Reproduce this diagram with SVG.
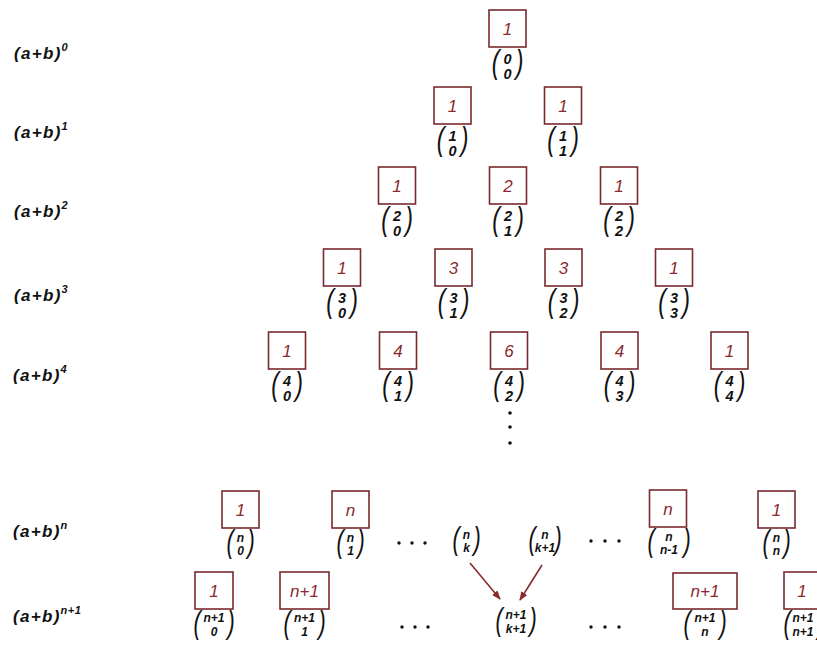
<svg xmlns="http://www.w3.org/2000/svg" width="817" height="646" viewBox="0 0 817 646">
<style>
.box{fill:none;stroke:#7a2a2e;stroke-width:1.6}
.val{font-family:"Liberation Sans",Arial,sans-serif;font-style:italic;font-size:17px;fill:#8a2a2e;text-anchor:middle}
.bin{font-family:"Liberation Sans",Arial,sans-serif;font-style:italic;font-weight:bold;font-size:14.5px;fill:#111;text-anchor:middle}
.binS{font-family:"Liberation Sans",Arial,sans-serif;font-style:italic;font-weight:bold;font-size:12px;fill:#111;text-anchor:middle}
.par{font-family:"Liberation Sans",Arial,sans-serif;font-style:italic;font-size:33px;fill:#111;text-anchor:middle}
.parS{font-family:"Liberation Sans",Arial,sans-serif;font-style:italic;font-size:31px;fill:#111;text-anchor:middle}
.lab{font-family:"Liberation Sans",Arial,sans-serif;font-style:italic;font-weight:bold;font-size:17px;letter-spacing:1.3px;fill:#111}
.sup{font-size:11px;letter-spacing:0.5px}
.dot{fill:#111}
.arr{stroke:#8a2a2e;stroke-width:1.6;fill:none;marker-end:url(#ah)}
</style>
<defs>
<marker id="ah" viewBox="0 0 10 10" refX="9" refY="5" markerWidth="9" markerHeight="9" markerUnits="userSpaceOnUse" orient="auto">
<path d="M0,1 L10,5 L0,9 Z" fill="#8a2a2e"/>
</marker>
</defs>
<rect width="817" height="646" fill="#fff"/>

<g id="row-labels">
<text class="lab" x="14" y="59">(a+b)<tspan class="sup" dy="-8">0</tspan></text>
<text class="lab" x="14" y="138">(a+b)<tspan class="sup" dy="-8">1</tspan></text>
<text class="lab" x="14" y="217">(a+b)<tspan class="sup" dy="-8">2</tspan></text>
<text class="lab" x="14" y="301">(a+b)<tspan class="sup" dy="-8">3</tspan></text>
<text class="lab" x="13" y="381">(a+b)<tspan class="sup" dy="-8">4</tspan></text>
<text class="lab" x="13" y="537">(a+b)<tspan class="sup" dy="-8">n</tspan></text>
<text class="lab" x="13" y="622">(a+b)<tspan class="sup" dy="-8">n+1</tspan></text>
</g>

<!-- row 0 -->
<g id="r0-0"><rect class="box" x="489" y="10" width="37" height="37"/><text class="val" x="507.5" y="35">1</text>
<text class="par" transform="translate(495.5,73) scale(0.7,1)">(</text><text class="par" transform="translate(519.5,73) scale(0.7,1)">)</text><text class="bin" x="507.5" y="64">0<tspan x="507.5" y="79">0</tspan></text></g>

<!-- row 1 -->
<g id="r1-0"><rect class="box" x="434" y="87" width="37" height="37"/><text class="val" x="452.5" y="112">1</text>
<text class="par" transform="translate(440.5,150) scale(0.7,1)">(</text><text class="par" transform="translate(464.5,150) scale(0.7,1)">)</text><text class="bin" x="452.5" y="141">1<tspan x="452.5" y="156">0</tspan></text></g>
<g id="r1-1"><rect class="box" x="544.5" y="87" width="37" height="37"/><text class="val" x="563" y="112">1</text>
<text class="par" transform="translate(551,150) scale(0.7,1)">(</text><text class="par" transform="translate(575,150) scale(0.7,1)">)</text><text class="bin" x="563" y="141">1<tspan x="563" y="156">1</tspan></text></g>

<!-- row 2 -->
<g id="r2-0"><rect class="box" x="378.5" y="167" width="37" height="37"/><text class="val" x="397" y="192">1</text>
<text class="par" transform="translate(385,230) scale(0.7,1)">(</text><text class="par" transform="translate(409,230) scale(0.7,1)">)</text><text class="bin" x="397" y="221">2<tspan x="397" y="236">0</tspan></text></g>
<g id="r2-1"><rect class="box" x="489.5" y="167" width="37" height="37"/><text class="val" x="508" y="192">2</text>
<text class="par" transform="translate(496,230) scale(0.7,1)">(</text><text class="par" transform="translate(520,230) scale(0.7,1)">)</text><text class="bin" x="508" y="221">2<tspan x="508" y="236">1</tspan></text></g>
<g id="r2-2"><rect class="box" x="600.5" y="167" width="37" height="37"/><text class="val" x="619" y="192">1</text>
<text class="par" transform="translate(607,230) scale(0.7,1)">(</text><text class="par" transform="translate(631,230) scale(0.7,1)">)</text><text class="bin" x="619" y="221">2<tspan x="619" y="236">2</tspan></text></g>

<!-- row 3 -->
<g id="r3-0"><rect class="box" x="323.5" y="249" width="37" height="37"/><text class="val" x="342" y="274">1</text>
<text class="par" transform="translate(330,312) scale(0.7,1)">(</text><text class="par" transform="translate(354,312) scale(0.7,1)">)</text><text class="bin" x="342" y="303">3<tspan x="342" y="318">0</tspan></text></g>
<g id="r3-1"><rect class="box" x="435" y="249" width="37" height="37"/><text class="val" x="453.5" y="274">3</text>
<text class="par" transform="translate(441.5,312) scale(0.7,1)">(</text><text class="par" transform="translate(465.5,312) scale(0.7,1)">)</text><text class="bin" x="453.5" y="303">3<tspan x="453.5" y="318">1</tspan></text></g>
<g id="r3-2"><rect class="box" x="545" y="249" width="37" height="37"/><text class="val" x="563.5" y="274">3</text>
<text class="par" transform="translate(551.5,312) scale(0.7,1)">(</text><text class="par" transform="translate(575.5,312) scale(0.7,1)">)</text><text class="bin" x="563.5" y="303">3<tspan x="563.5" y="318">2</tspan></text></g>
<g id="r3-3"><rect class="box" x="655.5" y="249" width="37" height="37"/><text class="val" x="674" y="274">1</text>
<text class="par" transform="translate(662,312) scale(0.7,1)">(</text><text class="par" transform="translate(686,312) scale(0.7,1)">)</text><text class="bin" x="674" y="303">3<tspan x="674" y="318">3</tspan></text></g>

<!-- row 4 -->
<g id="r4-0"><rect class="box" x="268.5" y="332" width="37" height="37"/><text class="val" x="287" y="357">1</text>
<text class="par" transform="translate(275,395) scale(0.7,1)">(</text><text class="par" transform="translate(299,395) scale(0.7,1)">)</text><text class="bin" x="287" y="386">4<tspan x="287" y="401">0</tspan></text></g>
<g id="r4-1"><rect class="box" x="379.5" y="332" width="37" height="37"/><text class="val" x="398" y="357">4</text>
<text class="par" transform="translate(386,395) scale(0.7,1)">(</text><text class="par" transform="translate(410,395) scale(0.7,1)">)</text><text class="bin" x="398" y="386">4<tspan x="398" y="401">1</tspan></text></g>
<g id="r4-2"><rect class="box" x="490.5" y="332" width="37" height="37"/><text class="val" x="509" y="357">6</text>
<text class="par" transform="translate(497,395) scale(0.7,1)">(</text><text class="par" transform="translate(521,395) scale(0.7,1)">)</text><text class="bin" x="509" y="386">4<tspan x="509" y="401">2</tspan></text></g>
<g id="r4-3"><rect class="box" x="601" y="332" width="37" height="37"/><text class="val" x="619.5" y="357">4</text>
<text class="par" transform="translate(607.5,395) scale(0.7,1)">(</text><text class="par" transform="translate(631.5,395) scale(0.7,1)">)</text><text class="bin" x="619.5" y="386">4<tspan x="619.5" y="401">3</tspan></text></g>
<g id="r4-4"><rect class="box" x="711" y="332" width="37" height="37"/><text class="val" x="729.5" y="357">1</text>
<text class="par" transform="translate(717.5,395) scale(0.7,1)">(</text><text class="par" transform="translate(741.5,395) scale(0.7,1)">)</text><text class="bin" x="729.5" y="386">4<tspan x="729.5" y="401">4</tspan></text></g>

<!-- vertical dots -->
<g id="vdots"><circle class="dot" cx="510" cy="413" r="1.8"/><circle class="dot" cx="510" cy="427" r="1.8"/><circle class="dot" cx="510" cy="443" r="1.8"/></g>

<!-- row n -->
<g id="rn-0"><rect class="box" x="222" y="491" width="37" height="37"/><text class="val" x="240.5" y="516">1</text>
<text class="parS" transform="translate(230,552) scale(0.7,1)">(</text><text class="parS" transform="translate(251,552) scale(0.7,1)">)</text><text class="binS" x="240.5" y="542">n<tspan x="240.5" y="555">0</tspan></text></g>
<g id="rn-1"><rect class="box" x="332" y="491" width="37" height="37"/><text class="val" x="350.5" y="516">n</text>
<text class="parS" transform="translate(340,552) scale(0.7,1)">(</text><text class="parS" transform="translate(361,552) scale(0.7,1)">)</text><text class="binS" x="350.5" y="542">n<tspan x="350.5" y="555">1</tspan></text></g>
<g id="rn-dots1"><circle class="dot" cx="399" cy="543" r="1.7"/><circle class="dot" cx="412" cy="543" r="1.7"/><circle class="dot" cx="425" cy="543" r="1.7"/></g>
<g id="rn-k"><text class="parS" transform="translate(456,549) scale(0.7,1)">(</text><text class="parS" transform="translate(477,549) scale(0.7,1)">)</text><text class="binS" x="466.5" y="539">n<tspan x="466.5" y="552">k</tspan></text></g>
<g id="rn-k1"><text class="parS" transform="translate(532,549) scale(0.7,1)">(</text><text class="parS" transform="translate(558,549) scale(0.7,1)">)</text><text class="binS" x="545" y="539">n<tspan x="545" y="552">k+1</tspan></text></g>
<g id="rn-dots2"><circle class="dot" cx="591" cy="541" r="1.7"/><circle class="dot" cx="605" cy="541" r="1.7"/><circle class="dot" cx="619" cy="541" r="1.7"/></g>
<g id="rn-n1"><rect class="box" x="649.5" y="490" width="37" height="37"/><text class="val" x="668" y="515">n</text>
<text class="parS" transform="translate(651,551) scale(0.7,1)">(</text><text class="parS" transform="translate(687,551) scale(0.7,1)">)</text><text class="binS" x="669" y="541">n<tspan x="669" y="554">n-1</tspan></text></g>
<g id="rn-n"><rect class="box" x="758" y="491" width="37" height="37"/><text class="val" x="776.5" y="516">1</text>
<text class="parS" transform="translate(766,552) scale(0.7,1)">(</text><text class="parS" transform="translate(787,552) scale(0.7,1)">)</text><text class="binS" x="776.5" y="542">n<tspan x="776.5" y="555">n</tspan></text></g>

<!-- row n+1 -->
<g id="rn1-0"><rect class="box" x="195" y="572" width="38" height="37"/><text class="val" x="214" y="597">1</text>
<text class="parS" transform="translate(197,633) scale(0.7,1)">(</text><text class="parS" transform="translate(231,633) scale(0.7,1)">)</text><text class="binS" x="214" y="622">n+1<tspan x="214" y="636">0</tspan></text></g>
<g id="rn1-1"><rect class="box" x="280" y="572" width="49" height="37"/><text class="val" x="304.5" y="597">n+1</text>
<text class="parS" transform="translate(287,633) scale(0.7,1)">(</text><text class="parS" transform="translate(322,633) scale(0.7,1)">)</text><text class="binS" x="304.5" y="622">n+1<tspan x="304.5" y="636">1</tspan></text></g>
<g id="rn1-dots1"><circle class="dot" cx="402" cy="627" r="1.7"/><circle class="dot" cx="415" cy="627" r="1.7"/><circle class="dot" cx="428" cy="627" r="1.7"/></g>
<g id="rn1-k1"><text class="parS" transform="translate(499,630) scale(0.7,1)">(</text><text class="parS" transform="translate(533,630) scale(0.7,1)">)</text><text class="binS" x="516" y="619">n+1<tspan x="516" y="633">k+1</tspan></text></g>
<g id="rn1-dots2"><circle class="dot" cx="591" cy="627" r="1.7"/><circle class="dot" cx="605" cy="627" r="1.7"/><circle class="dot" cx="619" cy="627" r="1.7"/></g>
<g id="rn1-n"><rect class="box" x="673" y="573" width="64" height="36"/><text class="val" x="705" y="597">n+1</text>
<text class="parS" transform="translate(687,633) scale(0.7,1)">(</text><text class="parS" transform="translate(723,633) scale(0.7,1)">)</text><text class="binS" x="705" y="622">n+1<tspan x="705" y="636">n</tspan></text></g>
<g id="rn1-n1"><rect class="box" x="784" y="572" width="40" height="37"/><text class="val" x="802" y="597">1</text>
<text class="parS" transform="translate(787,633) scale(0.7,1)">(</text><text class="parS" transform="translate(821,633) scale(0.7,1)">)</text><text class="binS" x="803" y="622">n+1<tspan x="803" y="636">n+1</tspan></text></g>

<g id="connectors">
<line class="arr" x1="470" y1="563" x2="500" y2="599"/>
<line class="arr" x1="542" y1="565" x2="520" y2="600"/>
</g>
</svg>
